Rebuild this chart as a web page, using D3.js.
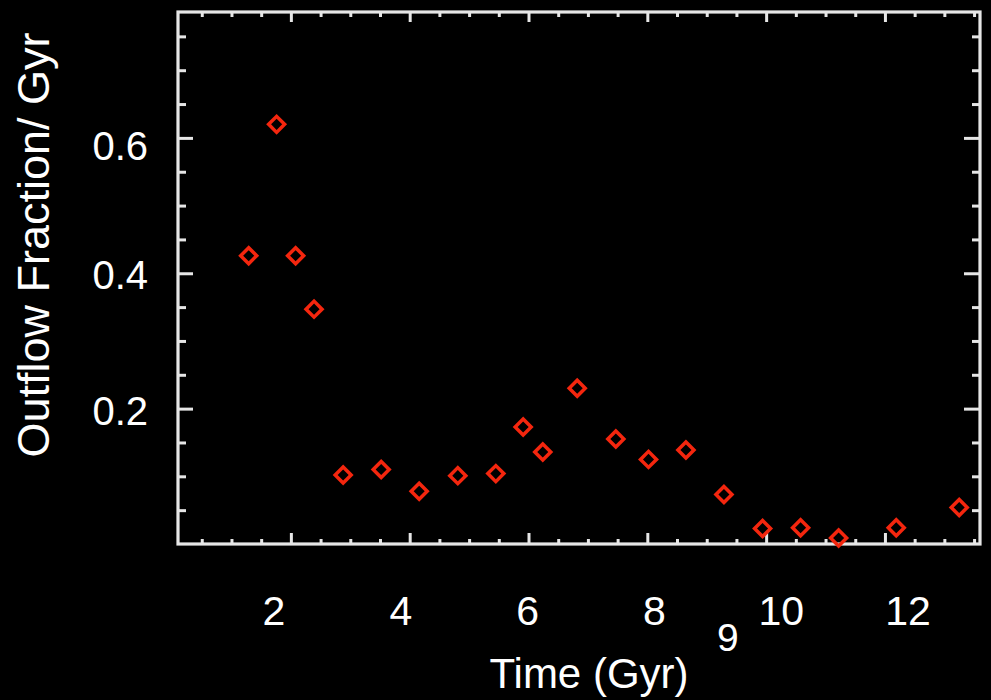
<!DOCTYPE html>
<html>
<head>
<meta charset="utf-8">
<script src="https://cdn.jsdelivr.net/npm/d3@7"></script>
<style>
  html, body { margin: 0; padding: 0; background: #000; }
  svg { display: block; }
  text { font-family: "Liberation Sans", Arial, sans-serif; fill: #fff; }
</style>
</head>
<body>
<svg width="991" height="700"></svg>
<script>
// values
var timeGyr = [1.29, 1.76, 2.08, 2.39, 2.88, 3.52, 4.16, 4.81, 5.45, 5.91, 6.24,
               6.82, 7.47, 8.02, 8.65, 9.29, 9.94, 10.58, 11.22, 12.19, 13.25];
var outflowFrac = [0.426, 0.620, 0.426, 0.347, 0.102, 0.110, 0.078, 0.101, 0.104, 0.173, 0.136,
                   0.230, 0.155, 0.125, 0.139, 0.073, 0.023, 0.024, 0.009, 0.024, 0.054];

var xLabelValues = [2, 4, 6, 8, 10, 12];
var yLabelValues = [0.2, 0.4, 0.6];
var yLabelText = ["0.2", "0.4", "0.6"];
var strayLabel = 9; // the lone "9" sitting under the axis

var svg = d3.select("svg"),
	margin = {top: 12, right: 11, bottom: 156, left: 178},
	width = 991 - margin.left - margin.right,
	height = 700 - margin.top - margin.bottom,
	g = svg.append("g").attr("transform", "translate(" + margin.left + "," + margin.top + ")");

var x = d3.scaleLinear()
	.domain([0.1, 13.6])
	.range([0, width]);

var y = d3.scaleLinear()
	.domain([0, 0.786])
	.range([height, 0]);

// tick labels were placed a bit wider than the plot ticks
var xLab = d3.scaleLinear()
	.domain([2, 12])
	.range([96, 730]);

var xMinor = d3.range(0.5, 13.6, 0.5).filter(function(v) { return v % 2 !== 0; });
var xMajor = d3.range(2, 13, 2);
var yMinor = d3.range(0.05, 0.78, 0.05).filter(function(v) { return Math.abs(v * 5 - Math.round(v * 5)) > 0.01; });
var yMajor = [0.2, 0.4, 0.6];

function ticks(axis, vals, len, tr) {
	var t = g.append("g")
		.attr("transform", tr || null)
		.call(axis.tickValues(vals).tickSize(len).tickFormat(""));
	t.select(".domain").remove();
	t.selectAll("line").attr("stroke", "#e6e6e6").attr("stroke-width", 3);
}

ticks(d3.axisBottom(x), xMinor, -5, "translate(0," + height + ")");
ticks(d3.axisBottom(x), xMajor, -11, "translate(0," + height + ")");
ticks(d3.axisTop(x), xMinor, -5);
ticks(d3.axisTop(x), xMajor, -10);
ticks(d3.axisLeft(y), yMinor, -8);
ticks(d3.axisLeft(y), yMajor, -15);
ticks(d3.axisRight(y), yMinor, -8, "translate(" + width + ",0)");
ticks(d3.axisRight(y), yMajor, -16, "translate(" + width + ",0)");

g.append("rect")
	.attr("width", width)
	.attr("height", height)
	.attr("fill", "none")
	.attr("stroke", "#e6e6e6")
	.attr("stroke-width", 3.2);

var sym = d3.symbol().type(d3.symbolSquare).size(128);

g.append("g")
	.selectAll("path")
	.data(timeGyr)
	.enter().append("path")
	.attr("d", sym)
	.attr("transform", function(d, i) {
		return "translate(" + x(d) + "," + y(outflowFrac[i]) + ") rotate(45)";
	})
	.attr("fill", "none")
	.attr("stroke", "#f4260e")
	.attr("stroke-width", 3.5);

// x labels
g.append("g")
	.selectAll("text")
	.data(xLabelValues)
	.enter().append("text")
	.attr("x", function(d) { return xLab(d); })
	.attr("y", height + 81)
	.attr("text-anchor", "middle")
	.style("font-size", "41px")
	.text(function(d) { return d; });

g.append("text")
	.attr("x", xLab(strayLabel) + 10)
	.attr("y", height + 107)
	.attr("text-anchor", "middle")
	.style("font-size", "39px")
	.text(strayLabel);

// y labels
g.append("g")
	.selectAll("text")
	.data(yLabelValues)
	.enter().append("text")
	.attr("x", -30)
	.attr("y", function(d) { return y(d) + 16 + (d > 0.5 ? 6 : 0); })
	.attr("text-anchor", "end")
	.style("font-size", "40px")
	.text(function(d, i) { return yLabelText[i]; });

svg.append("text")
	.attr("x", 589)
	.attr("y", 688)
	.attr("text-anchor", "middle")
	.style("font-size", "42px")
	.text("Time (Gyr)");

svg.append("text")
	.attr("transform", "translate(49,245) rotate(-90)")
	.attr("text-anchor", "middle")
	.style("font-size", "45px")
	.text("Outflow Fraction/ Gyr");
</script>
</body>
</html>
